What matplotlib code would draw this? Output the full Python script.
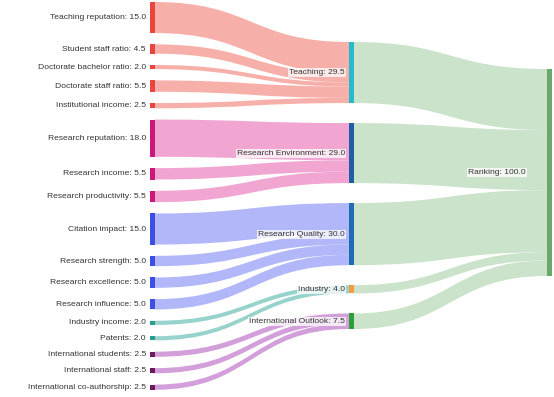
import numpy as np
import matplotlib.pyplot as plt
from matplotlib.path import Path
from matplotlib.patches import PathPatch, Rectangle

plt.rcParams['font.family'] = ['Liberation Sans', 'DejaVu Sans']

# input criteria (left column) -> pillar (middle column)
inputs = ['Teaching reputation', 'Student staff ratio', 'Doctorate bachelor ratio',
          'Doctorate staff ratio', 'Institutional income',
          'Research reputation', 'Research income', 'Research productivity',
          'Citation impact', 'Research strength', 'Research excellence', 'Research influence',
          'Industry income', 'Patents',
          'International students', 'International staff', 'International co-authorship']
input_values = [15.0, 4.5, 2.0, 5.5, 2.5,
                18.0, 5.5, 5.5,
                15.0, 5.0, 5.0, 5.0,
                2.0, 2.0,
                2.5, 2.5, 2.5]
input_pillar = [0, 0, 0, 0, 0, 1, 1, 1, 2, 2, 2, 2, 3, 3, 4, 4, 4]

pillars = ['Teaching', 'Research Environment', 'Research Quality', 'Industry', 'International Outlook']
pillar_values = [29.5, 29.0, 30.0, 4.0, 7.5]
total_label = 'Ranking'
total_value = 100.0

# styles
group_node_colors = ['#e8453c', '#c8197c', '#3b4fe0', '#2a9d8f', '#6b1a5e']
group_link_colors = ['#f7a8a0', '#f09ccd', '#a9b0f8', '#8ccfc7', '#cf95d7']
pillar_colors = ['#27b9cc', '#1f5ea6', '#1f6cb2', '#f39b3e', '#2e9e3a']
total_color = '#6aa86a'
total_link_color = '#c7e0c6'

K = 2.07          # px per unit
NODE_W = 4.5
col_x = [150, 349, 547]
col_top = [2, 42, 69]
col_gap = [11.3, 20.0, 0]


def stack(values, top, gap):
    ys = []
    y = top
    for v in values:
        ys.append(y)
        y += v * K + gap
    return ys


def link(ax, x0, y0, x1, y1, h, color):
    xm = (x0 + x1) / 2
    verts = [(x0, y0), (xm, y0), (xm, y1), (x1, y1),
             (x1, y1 + h), (xm, y1 + h), (xm, y0 + h), (x0, y0 + h), (x0, y0)]
    codes = [Path.MOVETO, Path.CURVE4, Path.CURVE4, Path.CURVE4,
             Path.LINETO, Path.CURVE4, Path.CURVE4, Path.CURVE4, Path.CLOSEPOLY]
    ax.add_patch(PathPatch(Path(verts, codes), fc=color, ec='none', alpha=0.9, zorder=1))


fig = plt.figure(figsize=(5.54, 3.97), dpi=100)
ax = fig.add_axes([0, 0, 1, 1])
ax.set_xlim(0, 554)
ax.set_ylim(397, 0)
ax.axis('off')

in_y = stack(input_values, col_top[0], col_gap[0])
p_y = stack(pillar_values, col_top[1], col_gap[1])
t_y = col_top[2]

# links left -> middle
p_fill = list(p_y)
for i, v in enumerate(input_values):
    g = input_pillar[i]
    link(ax, col_x[0] + NODE_W, in_y[i], col_x[1], p_fill[g], v * K, group_link_colors[g])
    p_fill[g] += v * K

# links middle -> right
t_fill = t_y
for j, v in enumerate(pillar_values):
    link(ax, col_x[1] + NODE_W, p_y[j], col_x[2], t_fill, v * K, total_link_color)
    t_fill += v * K

txt = dict(fontsize=6.1, color='#333333', va='center', ha='right')
box = dict(boxstyle='square,pad=0.12', fc='white', ec='none', alpha=0.75)

for i, v in enumerate(input_values):
    g = input_pillar[i]
    ax.add_patch(Rectangle((col_x[0], in_y[i]), NODE_W, v * K, fc=group_node_colors[g], ec='none', zorder=3))
    ax.text(col_x[0] - 4, in_y[i] + v * K / 2, f'{inputs[i]}: {v:.1f}', **txt)

for j, v in enumerate(pillar_values):
    ax.add_patch(Rectangle((col_x[1], p_y[j]), NODE_W, v * K, fc=pillar_colors[j], ec='none', zorder=3))
    ax.text(col_x[1] - 4, p_y[j] + v * K / 2, f'{pillars[j]}: {v:.1f}', bbox=box, zorder=4, **txt)

ax.add_patch(Rectangle((col_x[2], t_y), NODE_W, total_value * K, fc=total_color, ec='none', zorder=3))
ax.text(col_x[2] - 21, t_y + total_value * K / 2, f'{total_label}: {total_value:.1f}', bbox=box, zorder=4, **txt)

fig.savefig('out.png', dpi=100)
